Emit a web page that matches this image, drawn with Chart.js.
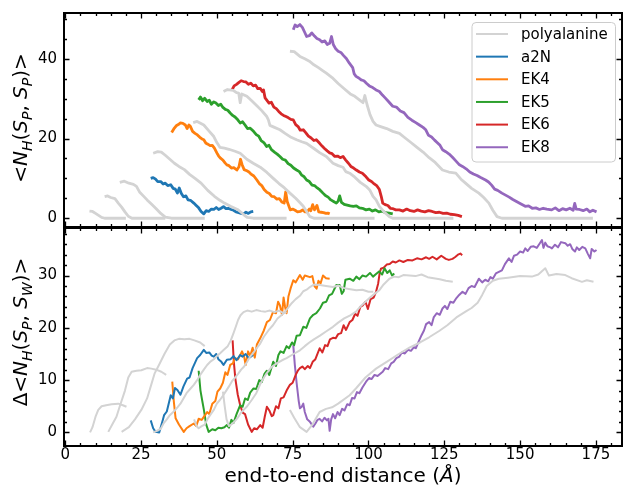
<!DOCTYPE html>
<html>
<head>
<meta charset="utf-8">
<script src="https://cdn.jsdelivr.net/npm/chart.js@4.4.0/dist/chart.umd.min.js"></script>
<style>
  body { margin: 0; background: #fff; }
  #wrap { position: relative; width: 623px; height: 490px; }
  #topBox { position: absolute; left: 0; top: 0; width: 623px; height: 228px; }
  #botBox { position: absolute; left: 0; top: 228px; width: 623px; height: 262px; }
</style>
</head>
<body>
<div id="wrap">
  <div id="topBox"><canvas id="topChart"></canvas></div>
  <div id="botBox"><canvas id="botChart"></canvas></div>
</div>
<script>
// tick labels
const xTicks = [0, 25, 50, 75, 100, 125, 150, 175];
const topYTicks = [0, 20, 40];
const botYTicks = [0, 10, 20, 30];

const legendNames = ['polyalanine', 'a2N', 'EK4', 'EK5', 'EK6', 'EK8'];
const legendColors = ['#d3d3d3', '#1f77b4', '#ff7f0e', '#2ca02c', '#d62728', '#9467bd'];

// ---- top panel: <N_H(S_P,S_P)> vs end-to-end distance ----
const polyTop1 = [[8,1.8],[9,1.7],[10,1.2],[11,0.7],[12,0.2],[13,0],[16,0],[20,0]];
const polyTop2 = [[13,5.4],[14,5.6],[15,5.2],[16.4,4.9],[17.5,3.8],[18.6,2.8],[19.7,1.6],[20.8,0.5],[22,0],[26,0],[33,0]];
const polyTop3 = [[18,9],[19.5,9.3],[21,8.8],[22.5,8.5],[23.5,8],[24.5,6.6],[25.5,5.8],[27,4.6],[28.5,3.5],[30,2.4],[31.5,1.2],[33,0.3],[35,0],[40,0],[46,0]];
const polyTop4 = [[29,16.3],[30.5,16.7],[31.7,16.6],[33,15.8],[34.5,14.8],[36,13.8],[37.5,13],[39.3,12.2],[41,11],[42.8,10],[44.8,8.8],[47,7],[49.2,5.5],[51,4.5],[52.5,3.8],[54.5,3],[56.8,2.2],[58,1.5],[59,0.8],[60,0.2],[62,0],[66,0],[73,0]];
const polyTop5 = [[42.2,24],[43.5,24.3],[45.7,23.4],[47.3,22],[49,20.5],[50,19],[51,17.8],[52.5,17.6],[54,17.3],[56,16.8],[57.7,16.3],[59.9,14.8],[62,13.8],[64.3,12.8],[66.5,11.5],[68.6,10],[70.5,8.7],[72.3,7.6],[74.1,6.3],[76,5],[77.5,3.8],[78.5,3],[79.6,1.7],[80.7,0.4],[82,0],[90,0],[102,0]];
const polyTop6 = [[52.2,31.8],[53.5,32.3],[55.4,32.1],[56.5,31.5],[57.2,31.4],[57.7,29],[58.2,31.2],[59.9,30.6],[61.5,29.5],[63.1,28.3],[64.8,27],[66.4,25.6],[67,24.7],[67.5,23.3],[69,22.8],[70.8,22.2],[72.5,21.3],[74.5,20.3],[76.3,19.7],[78,19.2],[79.6,18.8],[82,17.5],[84,16.4],[86.1,15.5],[88.3,13.8],[90,13.2],[91.6,12.8],[92.5,11.7],[93.8,11.3],[95.5,10.3],[97.3,9],[99.2,8],[100.5,7],[101.5,5.5],[102.5,4.6],[103.6,3],[105,1.7],[106.9,0.4],[108,0],[118,0],[128,0]];
const polyTop7 = [[74.1,41.9],[75.5,41.8],[77.4,40.6],[79,40],[80.5,39.4],[82,38.5],[83.5,37.8],[85,37],[86.1,36.4],[88,35.3],[90,33.8],[92,32.5],[94,31.2],[95.5,30.6],[97,29.7],[98.2,29],[98.8,30.8],[99.5,28.6],[100.5,26],[101.5,24.3],[102.5,23.4],[104,23],[106,22.5],[108,21.8],[110.2,21.3],[112,20.2],[114,19],[116,17.8],[118,16.6],[120,15.2],[122,14],[124.4,12.1],[126.5,11.6],[128.8,11.3],[130.5,9.8],[132,8.8],[134,7.5],[136.4,6.3],[138,5.2],[139.7,3.8],[141,2],[142.4,0.4],[144,0],[160,0],[174,0]];

const a2nTop = [[28.2,10],[29,10.2],[29.8,9.8],[30.5,9.2],[31.5,9.2],[32.3,8.6],[33,8.8],[33.8,8.2],[34.8,8.4],[35.6,7.5],[36.3,7.3],[37,6.3],[37.6,7.6],[38.3,6.2],[39,5.4],[39.8,5.6],[40.5,4.6],[41.3,4.5],[42.4,3.8],[43.2,3.2],[44,2.6],[44.8,1.7],[45.7,1.1],[46.5,1.9],[47.3,1.7],[48.2,2.3],[49,2.2],[49.8,2.7],[50.6,2.2],[51.4,2.5],[52.2,2.9],[53,2.4],[53.8,2.5],[54.7,2.2],[55.5,2],[56.3,1.6],[57.2,1.4],[58,1.2],[58.8,1.1],[59.6,1.5],[60.4,1.2],[61.2,1.6],[62,1.7]];
const ek4Top = [[35.1,21.5],[35.8,22.4],[36.6,23.2],[37.3,23.5],[38,23.9],[38.8,23.8],[39.6,23.4],[40.2,22.5],[40.8,23.4],[41.3,23],[42,21.8],[42.8,21.3],[43.6,20.9],[44.4,20.3],[45.1,19.9],[45.7,19.7],[46.4,18.8],[47,18.6],[47.8,18.2],[48.5,18.3],[49.2,17.6],[50,16.4],[50.6,15.6],[51.3,15],[52,14.6],[52.7,13.9],[53.3,13.4],[54,13.2],[54.8,12.6],[55.6,12.7],[56.6,12.1],[57.3,12.9],[57.8,14.8],[58.3,13.5],[59,12.2],[59.9,11.9],[60.6,11.6],[61.4,11],[62.2,10.6],[63.2,9.6],[64,8.7],[64.8,8.2],[65.6,7.2],[66.5,6.5],[67.3,6.2],[68.1,5.5],[68.9,5.4],[69.8,4.8],[70.6,4.9],[71.4,4.1],[72.2,3.8],[72.7,6.6],[73.2,4.2],[74.2,2.1],[75,2.3],[75.8,2],[76.6,1.6],[77.5,1.7],[78.3,2.1],[79.1,1.6],[79.8,1.6],[80.5,2.3],[81,1.9],[81.6,3.4],[82.2,2.1],[83,3.2],[83.6,1.6],[84.4,1.5],[85.2,1.4],[86,1.2],[86.6,1.3],[87.2,1.1]];
const ek5Top = [[44,29.7],[44.6,30.4],[45.3,29.5],[46,30.1],[46.8,29.3],[47.5,29.6],[48.2,28.6],[49,29.2],[49.7,28.9],[50.5,28.3],[51.3,28.6],[52,27.8],[52.8,27.3],[53.6,27.1],[54.4,26.4],[55.2,25.8],[56,25.4],[56.9,24.7],[57.7,23.9],[58.5,24.2],[59.3,23.4],[60.1,22.5],[61,22.6],[62.1,21.8],[63,21],[63.8,20.6],[64.6,19.5],[65.5,19],[66.4,18],[67.2,18.3],[68,17.2],[69,16.6],[69.9,16.1],[70.8,15.5],[71.7,14.8],[72.6,14.6],[73.5,13.7],[74.4,13.3],[75.3,12.6],[76.3,12.1],[77.2,11.7],[78,10.8],[78.8,10.4],[79.6,9.6],[80.5,9.2],[81.4,8.3],[82.2,8.2],[83.1,7.6],[84,7.1],[85,6.3],[85.8,5.7],[86.7,5.3],[87.6,4.6],[88.5,4.2],[89.4,3.8],[90,4.3],[90.5,5.6],[91.1,4],[92,3.5],[93,3.3],[94,3.1],[95,3],[96,3.1],[97,2.6],[98,2.5],[99.2,2.1],[100.3,2.3],[101.3,1.8],[102.3,2.1],[103.4,1.6],[104.5,1.8],[105.6,1.4],[106.8,1.3],[108,1.1]];
const ek6Top = [[55,32.2],[55.7,33.2],[56.5,33.6],[57.3,34.1],[58,34.5],[58.8,34.3],[59.6,34.2],[60.4,33.6],[61.2,33.9],[62,33.2],[62.8,33.4],[63.5,32.5],[64.3,32.6],[65,31.8],[65.4,32.2],[65.9,30.2],[66.4,29.7],[67.2,28.9],[68,29.1],[68.8,27.9],[69.6,27.5],[70.4,26.8],[71.2,26.2],[72,25.8],[72.8,25.5],[73.6,25.2],[74.4,24.8],[75.2,24.7],[76,23.5],[76.8,23],[77.5,22.1],[78.5,22.2],[79.3,21.5],[80.2,20.6],[81,20.2],[82,19.5],[82.8,19.7],[83.9,18.8],[84.7,18.1],[85.5,17.5],[86.4,16.9],[87.2,16.4],[88,16.2],[88.9,15.5],[89.8,15.6],[90.7,15.2],[91.6,15.5],[92.5,14.6],[93.4,13.8],[94.2,13],[95.1,12.6],[96,12.1],[97,11.6],[98,11.3],[99.2,10.4],[100.1,9.6],[101,9.2],[101.9,8.6],[102.8,8.1],[103.6,7.2],[104.2,5.5],[104.7,3.8],[105.5,3.4],[106.4,3.2],[107.2,2.5],[108.1,2.4],[109,2.1],[110.2,2.1],[111.4,1.8],[112.6,2.3],[113.8,1.9],[115,1.7],[116.2,2.1],[117.4,1.8],[118.6,1.6],[119.8,1.9],[121,1.7],[122.2,1.4],[123.4,1.5],[124.6,1.2],[125.8,1.3],[127,1],[128.3,0.9],[129.6,0.7],[130.8,0.4]];
const ek8Top = [[75.2,47.3],[75.8,48.5],[76.5,48.1],[77.4,48.6],[78.2,47.9],[79,46.6],[79.6,45.6],[80.5,45.8],[81.3,46.5],[82.2,45.7],[83,45.1],[83.9,44.8],[84.7,44.2],[85.6,44.5],[86.4,43.6],[87.2,43.9],[87.8,45.6],[88.4,43.6],[89.2,42.5],[90,41.9],[90.9,41.6],[91.8,40.8],[92.7,40.1],[93.7,38.9],[94.8,37.8],[95.3,36.2],[95.9,35.6],[96.8,35.2],[97.6,34.7],[98.5,34.5],[99.4,33.8],[100.3,33.2],[101.4,32.8],[102.5,32.2],[103.6,31.8],[104.6,30.9],[105.5,30.2],[106.6,29.3],[108,28.1],[109.2,27.9],[110.5,26.9],[111.7,26.5],[113,25.3],[114.3,24.6],[115.6,24],[116.8,23.4],[118,22.8],[118.9,22.2],[119.8,20.8],[120.8,20.4],[121.8,19.6],[122.8,18.9],[123.6,18.3],[124.4,17.2],[125.5,16.7],[126.6,16.1],[127.7,15.3],[128.8,14.4],[130,13.4],[131,13],[132.2,12.4],[133.4,11.6],[134.6,11.1],[135.8,10.7],[137,10.2],[138.6,9.6],[139.6,9.1],[140.6,8.3],[141.6,7.3],[142.6,7],[144,6.3],[145.2,5.8],[146.4,5.3],[147.6,4.7],[148.8,4.2],[150,3.7],[151.7,3],[152.8,3.1],[154,2.5],[155.2,2.6],[156.4,2.2],[157.6,2.5],[158.8,2.3],[160.4,2.1],[161.6,2.6],[162.8,1.9],[164,2.4],[165.2,2.1],[166.4,2.5],[167.5,2],[168,3.7],[168.5,2.3],[169.6,2.2],[170.8,1.9],[172,2.3],[173,1.6],[174,2],[175.2,1.6]];

// ---- bottom panel: Δ<N_H(S_P,S_W)> vs end-to-end distance ----
const polyBot1 = [[8.2,0],[9,1],[10,3],[10.9,4.3],[12,5],[13.5,5.2],[15.3,5.4],[17.5,5.5],[19,5.2],[20.2,4.9]];
const polyBot2 = [[14.2,0.1],[15.5,1.5],[16.9,3],[18,5],[19.7,8],[20.8,10.5],[21.9,11.6],[23.5,11.8],[25.1,11.9],[27,12.3],[28.4,12.2],[30,12],[31.7,11.6],[33.3,11]];
const polyBot3 = [[18.6,0.1],[21,1],[23,2.5],[25.1,4.3],[27,6.5],[28.3,9],[29.5,11.3],[31,13],[32.8,15.1],[34.5,16.8],[36,17.6],[37.5,17.9],[39.3,17.8],[41,17.9],[42.6,17.6],[44.5,17.2],[46,16.5]];
const polyBot4 = [[29,0],[30.2,0.3],[31.5,0.7],[32.5,1.8],[33.5,2.5],[34.5,3.3],[35.8,4],[37,4.8],[38,5.5],[39,6.5],[40,7.5],[41.2,8.3],[42.4,9.1],[43.5,10],[44.5,11],[45.7,12],[46.8,12.9],[48,13.6],[49,14],[50,14.6],[51,15.1],[52.3,15.8],[53.6,16.5],[54.6,17.6],[55.5,19],[56.3,20.3],[57,21.5],[57.8,22.4],[58.8,23],[60,23.3],[61.5,23.1],[63,23.4],[64.5,23.2],[66,23.1],[67.5,23.3],[69,23],[70.5,23.3],[72,22.8],[73,23]];
const polyBot5 = [[42.5,2.5],[43.3,1.2],[44,0.8],[45,1.2],[46,1.5],[47,2.6],[48,3.5],[49,4.3],[50,5.5],[51,6.2],[52,7],[53,7.9],[54,8.8],[55,9.8],[56,10.5],[57,11.2],[58,12],[59,12.6],[60,13.5],[61,14.5],[62,15.2],[63,16],[64.3,17],[65.5,18.3],[67,19.5],[68.5,20.5],[70,21.8],[71.5,22.5],[73,23.5],[74.5,24.6],[76,25.5],[77.5,26.2],[78.5,27],[79.6,27.3],[80.7,27.8],[82,28.3],[84,28.2],[86,28],[88.3,27.8],[90,28.1],[92,27.6],[94,27.4],[96,27.2],[98,27.3],[100,26.9],[101.6,26.9]];
const polyBot6 = [[52,7.8],[52.6,5],[53.2,2.5],[54,1.2],[55,1.6],[56,2.2],[57,2.9],[58,3.8],[59,4.4],[60,5],[61.5,6.2],[63,7.5],[64.5,9.5],[66.4,11.3],[68,12.5],[69.7,13.2],[71.5,13.8],[73,14.2],[75,14.9],[77.4,15.7],[79,16.5],[80.5,17.2],[82,17.8],[84,18.5],[86,19.3],[88.3,20.2],[90,21],[92,21.8],[94,22.4],[95.9,23.1],[97.5,24.2],[99,25],[100.5,25.8],[102,26.5],[103.6,27.2],[105,28.3],[106.9,29.4],[108.5,29.8],[110,29.7],[111.5,30.1],[113.5,30],[115.5,29.9],[117.5,30.2],[119.5,29.7],[121.5,29.5],[123.5,29.3],[125.5,29],[127.8,28.8]];
const polyBot7 = [[74.1,4.3],[75.5,2.8],[77.4,1],[79.6,0.1],[81.5,1.5],[83.9,3.9],[86,4.5],[88,4.8],[90,5.5],[93.8,7.1],[96,8.5],[99,10.5],[102.5,12.2],[106,13.5],[110,15],[113.5,16.2],[117,17.2],[120,18.2],[123.3,19.4],[126,20.5],[129,22],[132,23.1],[134,23.8],[136,24.8],[137.5,26.3],[139,28],[141,29],[143,29.4],[146,29.6],[150,29.9],[153.9,29.8],[156,30.2],[158.3,31.4],[159.5,30],[162,30.3],[164.9,30.1],[167,29.5],[170.4,28.8],[172,29.1],[174.2,28.8]];

const a2nBot = [[28.2,2.3],[29,0.8],[29.8,0.1],[31,0],[32,2],[32.6,3.3],[33.5,4],[34.8,7.1],[35.5,6.5],[36.2,8.5],[37,8.1],[38,7.2],[39,8.8],[40.2,10.3],[41,10.5],[42,12.3],[43.5,14.2],[44.5,14.8],[45.7,15.8],[46.5,15.2],[47.5,15.3],[48.3,14.7],[49,14.5],[49.8,15],[50.5,14],[51.5,13.5],[52.2,12.9],[53.3,13.9],[54.5,14],[55.5,14.6],[56.5,13.8],[57.7,14.8],[58.5,14.5],[59.5,15],[60.5,14.2],[62,14.8]];
const ek4Bot = [[35.3,9.7],[35.8,6],[36.4,2.7],[37.5,1.5],[39.1,0.1],[40,0.8],[41,1.2],[42.4,1.7],[43.2,1.2],[44,2.6],[45,2.4],[46,3.2],[46.8,3.9],[47.5,3.5],[48.5,5.5],[49.5,6],[50.2,7.8],[51.1,8.4],[52,9.5],[52.8,11.5],[53.5,11],[54.4,12.9],[55.3,13.2],[56,14.2],[57,14],[58.3,15.5],[59,14.5],[59.5,12.9],[60.3,15.5],[61,14.6],[61.8,16.2],[62.5,14.3],[63.2,16.8],[64.3,18],[65.5,19.5],[66.5,21.1],[67.5,21.5],[68.5,23],[69.5,22.8],[70.2,25],[70.8,24.3],[71.5,22.5],[72,25.8],[72.5,24],[73,22.8],[73.6,26],[74.3,27.5],[75.2,29.1],[76,28.7],[77.4,30.1],[78.3,29.2],[79,30],[80.7,29.7],[81.5,29.9],[82.2,28],[82.9,27.5],[83.5,29],[84.2,28.5],[85,30],[86,29.5],[87.2,29.4]];
const ek5Bot = [[44,11.8],[44.6,8],[45.2,6],[45.7,4.4],[46.5,1.5],[47.3,0.1],[48.5,0.6],[49.5,0.4],[50.5,0.9],[51.5,0.8],[52.5,1],[53.3,1.4],[54,0.9],[54.8,2.4],[55.5,1.8],[56.5,3.5],[57.7,5.2],[58.5,4.9],[59.3,6.5],[60.2,6.2],[61,7.6],[62.1,8.4],[63,8.3],[64,10],[64.8,9.6],[65.7,11.2],[66.5,11.8],[67.3,11],[68.6,13.5],[69.5,12.7],[70.3,14.8],[71,15.5],[72,15.2],[73,16.5],[73.8,16.1],[74.8,17.2],[75.5,16.7],[76.3,18.5],[77.4,18.6],[78.5,20.2],[79.5,20],[80.7,21.8],[81.8,22.5],[82.8,22.8],[84,23.7],[85,24.8],[86.1,25],[87,26.2],[88,26.5],[89.4,28.2],[90.5,28.2],[91.2,26.5],[91.8,27],[92.4,29.2],[93.8,29.4],[95,29],[96,29.8],[97,29.3],[98,30],[99.2,29.8],[100.5,30.5],[101.5,29.8],[102.5,30.3],[103.5,30.8],[104.5,30.2],[105.3,31.4],[106.2,30.5],[107,31],[107.8,30],[108.5,30.4]];
const ek6Bot = [[55.2,17.6],[55.6,13.5],[56.1,10.3],[56.9,7.2],[57.7,5.2],[58.5,3.8],[59.3,3.5],[60.3,1.5],[61.5,0.1],[62.3,0.8],[63.2,0.6],[64.3,1.4],[65.1,0.9],[65.8,3],[66.5,4.9],[67.3,4.2],[68.1,3.1],[68.6,3.3],[69.5,5],[70.3,4.6],[71.1,6.5],[72,6.7],[73,8],[74.1,9.1],[75,9.5],[76,11],[76.7,11.8],[77.4,12.3],[78.2,12.6],[79,12.1],[80,12.7],[80.7,12.3],[81.6,13.5],[82.5,14],[83.9,16.1],[84.8,15.3],[85.7,16.7],[86.5,16.5],[87.3,17.8],[88.3,18.1],[89.2,18],[90,18.8],[91,19],[91.8,20.5],[92.6,19.6],[93.8,21.1],[94.7,21.5],[95.6,22.7],[96.4,22.3],[97.3,24],[98.1,24.3],[99,25],[99.8,23.6],[100.7,25.5],[101.7,25.8],[102.5,26.9],[103.2,28.5],[103.7,30.5],[104.1,31.3],[105,31.5],[106,32.1],[107,32.2],[108,32.7],[109,32.5],[110.2,32.9],[111.5,32.6],[113,33],[114.5,32.9],[116,33.3],[117.5,33.1],[119,33.5],[120,33.2],[121.1,33.6],[122.5,33.1],[124,33.8],[125.5,33.2],[126.5,33],[127.7,33.2],[128.5,33.5],[129.5,34],[130.3,34.2],[130.9,33.9]];
const ek8Bot = [[75.2,16.7],[75.7,13],[76.3,9.5],[77,6],[77.4,4.6],[78,4.9],[78.5,5.5],[79,3.9],[79.8,2.5],[80.6,2.1],[81.8,1.1],[82.5,1.7],[83.2,2.4],[83.9,2.6],[84.7,2.1],[85.5,2.8],[86.3,2.3],[86.8,2.6],[87.2,0.3],[87.7,2.5],[88.3,3.5],[89,2.7],[89.8,3.9],[90.5,3.3],[91.3,4.5],[92.1,4.2],[93,5.4],[93.8,5.2],[94.6,6.6],[95.4,6.5],[96.2,7.7],[97,7.5],[98,8.6],[99.2,9.7],[100.2,10.4],[101,10.2],[102,11],[103,10.8],[104.7,11.6],[105.5,12.3],[106.5,12.1],[107.5,13.2],[108.3,13.5],[109.2,14.2],[110.2,14.5],[111,15.3],[112,15.1],[113,15.8],[114,15.6],[115,16.3],[115.6,16.1],[116.5,17.3],[117.5,18.6],[118.3,19.5],[119,20.7],[120,21.1],[120.8,20.5],[121.5,22],[122.5,22.8],[123.5,22.5],[124.4,23.7],[125.2,24.2],[126,23.6],[127,25],[128,24.8],[129,25.7],[129.9,26.3],[131,26.9],[132,26.5],[133,27.6],[134,28],[135,27.8],[136.4,29.4],[137.5,28.7],[138.5,29.2],[139.5,28.9],[140.2,29.7],[141,29.4],[142,30.4],[143,30.7],[144,31],[145,32.2],[146.3,33.3],[147.2,32.6],[148,33.8],[149,34],[150,34.6],[151,34.4],[151.7,35.2],[152.5,34.7],[153.5,35.5],[154.5,35.6],[155.5,35.3],[156.3,36],[157.2,36.8],[157.7,35.3],[158.3,36.3],[159,35.6],[160,35.4],[160.5,35.2],[161.5,35.9],[162.5,35.4],[163.5,36.4],[164.9,36.2],[165.7,35.7],[166.5,36],[167.2,35.1],[168.1,34.6],[168.7,35.4],[169.5,34.9],[170.5,35.5],[171.5,35.2],[172.3,34.2],[173.1,33.3],[173.6,35.1],[174.5,34.6],[175.2,34.9]];

const FONT = "'DejaVu Sans', 'Liberation Sans', sans-serif";

function series(points, color, width) {
    return {
        data: points.map(p => ({ x: p[0], y: p[1] })),
        borderColor: color,
        borderWidth: width,
        borderJoinStyle: 'round',
        pointRadius: 0,
        fill: false,
        tension: 0
    };
}

// 수식 라벨 그리기 (아래첨자, 기울임)
function drawRich(ctx, parts, cx, cy, rotate, size) {
    ctx.save();
    ctx.translate(cx, cy);
    if (rotate) ctx.rotate(-Math.PI / 2);
    const fontFor = p => (p.it ? 'oblique ' : '') + (p.sub ? size * 0.7 : size) + 'px ' + FONT;
    let total = 0;
    const widths = parts.map(p => {
        ctx.font = fontFor(p);
        const w = ctx.measureText(p.t).width;
        total += w;
        return w;
    });
    let x = -total / 2;
    ctx.fillStyle = '#000';
    ctx.textBaseline = 'alphabetic';
    ctx.textAlign = 'left';
    parts.forEach((p, i) => {
        ctx.font = fontFor(p);
        ctx.fillText(p.t, x, p.sub ? size * 0.58 : size * 0.36);
        x += widths[i];
    });
    ctx.restore();
}

// 테두리와 안쪽 눈금 그리기
function drawFrame(chart, yMajor, yMinorStep) {
    const { ctx, chartArea: a, scales } = chart;
    const xs = scales.x, ys = scales.y;
    ctx.save();
    ctx.strokeStyle = '#000';
    ctx.lineWidth = 1.3;
    ctx.beginPath();
    const xTick = (v, len) => {
        const px = Math.round(xs.getPixelForValue(v)) + 0.5;
        if (px < a.left || px > a.right) return;
        ctx.moveTo(px, a.bottom); ctx.lineTo(px, a.bottom - len);
        ctx.moveTo(px, a.top); ctx.lineTo(px, a.top + len);
    };
    const yTick = (v, len) => {
        const py = Math.round(ys.getPixelForValue(v)) + 0.5;
        if (py < a.top || py > a.bottom) return;
        ctx.moveTo(a.left, py); ctx.lineTo(a.left + len, py);
        ctx.moveTo(a.right, py); ctx.lineTo(a.right - len, py);
    };
    for (let v = 0; v <= 180; v += 5) xTick(v, xTicks.includes(v) ? 5.5 : 3);
    for (let v = 0; v <= ys.max; v += yMinorStep) yTick(v, yMajor.includes(v) ? 5.5 : 3);
    ctx.stroke();
    ctx.lineWidth = 2;
    ctx.strokeRect(a.left, a.top, a.right - a.left, a.bottom - a.top);
    ctx.restore();
}

function drawLegend(ctx) {
    const x0 = 472, y0 = 22.5, w = 143.5, h = 139.5, r = 4;
    ctx.save();
    ctx.beginPath();
    ctx.moveTo(x0 + r, y0);
    ctx.arcTo(x0 + w, y0, x0 + w, y0 + h, r);
    ctx.arcTo(x0 + w, y0 + h, x0, y0 + h, r);
    ctx.arcTo(x0, y0 + h, x0, y0, r);
    ctx.arcTo(x0, y0, x0 + w, y0, r);
    ctx.closePath();
    ctx.fillStyle = 'rgba(255,255,255,0.85)';
    ctx.fill();
    ctx.strokeStyle = '#cccccc';
    ctx.lineWidth = 1;
    ctx.stroke();
    ctx.font = '15px ' + FONT;
    ctx.textBaseline = 'middle';
    ctx.textAlign = 'left';
    legendNames.forEach((name, i) => {
        const y = 34 + i * 22.65;
        ctx.strokeStyle = legendColors[i];
        ctx.lineWidth = 2;
        ctx.beginPath();
        ctx.moveTo(476, y);
        ctx.lineTo(508, y);
        ctx.stroke();
        ctx.fillStyle = '#000';
        ctx.fillText(name, 521, y + 1);
    });
    ctx.restore();
}

function baseOptions(yMin, yMax, yTicks, showX, padding) {
    return {
        responsive: true,
        maintainAspectRatio: false,
        animation: false,
        events: [],
        layout: { padding: padding },
        plugins: { legend: { display: false }, tooltip: { enabled: false } },
        scales: {
            x: {
                type: 'linear',
                min: -0.4,
                max: 183.6,
                grid: { display: false, drawTicks: false },
                border: { display: false },
                ticks: { display: showX, color: '#000', padding: 0, font: { family: FONT, size: 15 } },
                afterBuildTicks: axis => { axis.ticks = xTicks.map(v => ({ value: v })); },
                afterFit: s => { s.height = showX ? 44 : 0; s.paddingLeft = 0; s.paddingRight = 0; }
            },
            y: {
                type: 'linear',
                min: yMin,
                max: yMax,
                grid: { display: false, drawTicks: false },
                border: { display: false },
                ticks: { color: '#000', padding: 7, font: { family: FONT, size: 15 } },
                afterBuildTicks: axis => { axis.ticks = yTicks.map(v => ({ value: v })); },
                afterFit: s => { s.width = 64; s.paddingTop = 0; s.paddingBottom = 0; }
            }
        }
    };
}

const grey = legendColors[0];

// 위쪽 패널
new Chart(document.getElementById('topChart'), {
    type: 'line',
    data: {
        datasets: [
            series(polyTop1, grey, 2.8), series(polyTop2, grey, 2.8), series(polyTop3, grey, 2.8),
            series(polyTop4, grey, 2.8), series(polyTop5, grey, 2.8), series(polyTop6, grey, 2.8),
            series(polyTop7, grey, 2.8),
            series(a2nTop, legendColors[1], 2.8),
            series(ek4Top, legendColors[2], 2.8),
            series(ek5Top, legendColors[3], 2.8),
            series(ek6Top, legendColors[4], 2.8),
            series(ek8Top, legendColors[5], 2.8)
        ]
    },
    options: baseOptions(-2.2, 51.5, topYTicks, false, { top: 13, right: 1, bottom: 1, left: 0 }),
    plugins: [{
        id: 'topDecor',
        afterDraw(chart) {
            drawFrame(chart, topYTicks, 5);
            drawLegend(chart.ctx);
            drawRich(chart.ctx, [
                { t: '<' }, { t: 'N', it: 1 }, { t: 'H', it: 1, sub: 1 }, { t: '(' },
                { t: 'S', it: 1 }, { t: 'P', it: 1, sub: 1 }, { t: ', ' },
                { t: 'S', it: 1 }, { t: 'P', it: 1, sub: 1 }, { t: ')>' }
            ], 20, 118, true, 20);
        }
    }]
});

// 아래쪽 패널
new Chart(document.getElementById('botChart'), {
    type: 'line',
    data: {
        datasets: [
            series(polyBot1, grey, 2), series(polyBot2, grey, 2), series(polyBot3, grey, 2),
            series(polyBot4, grey, 2), series(polyBot5, grey, 2), series(polyBot6, grey, 2),
            series(polyBot7, grey, 2),
            series(a2nBot, legendColors[1], 2),
            series(ek4Bot, legendColors[2], 2),
            series(ek5Bot, legendColors[3], 2),
            series(ek6Bot, legendColors[4], 2),
            series(ek8Bot, legendColors[5], 2)
        ]
    },
    options: baseOptions(-2.6, 39.1, botYTicks, true, { top: 0, right: 1, bottom: 0, left: 0 }),
    plugins: [{
        id: 'botDecor',
        afterDraw(chart) {
            drawFrame(chart, botYTicks, 2);
            drawRich(chart.ctx, [
                { t: 'Δ<' }, { t: 'N', it: 1 }, { t: 'H', it: 1, sub: 1 }, { t: '(' },
                { t: 'S', it: 1 }, { t: 'P', it: 1, sub: 1 }, { t: ', ' },
                { t: 'S', it: 1 }, { t: 'W', it: 1, sub: 1 }, { t: ')>' }
            ], 20, 104, true, 20);
            drawRich(chart.ctx, [
                { t: 'end-to-end distance (' }, { t: 'Å', it: 1 }, { t: ')' }
            ], 343, 247, false, 20);
        }
    }]
});
</script>
</body>
</html>
